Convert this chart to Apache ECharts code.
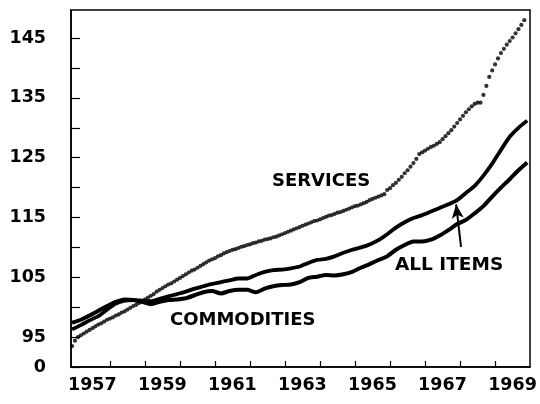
<!DOCTYPE html>
<html>
<head>
<meta charset="utf-8">
<script src="https://cdn.jsdelivr.net/npm/echarts@6/dist/echarts.min.js"></script>
<style>
  html, body { margin: 0; padding: 0; background: #fff; }
  #chart { width: 540px; height: 404px; }
</style>
</head>
<body>
<div id="chart"></div>
<script>
// monthly services index, starting at the left edge of 1957
let servicesMonthly = [
  93.5, 94.4, 95.0, 95.3, 95.6, 95.9, 96.2, 96.5, 96.8, 97.1, 97.3, 97.6,
  97.9, 98.1, 98.3, 98.6, 98.8, 99.1, 99.3, 99.6, 99.9, 100.2, 100.4, 100.7,
  100.9, 101.3, 101.6, 101.9, 102.2, 102.6, 102.9, 103.2, 103.5, 103.8, 104.0, 104.3,
  104.6, 104.9, 105.2, 105.5, 105.8, 106.1, 106.3, 106.6, 106.9, 107.2, 107.5, 107.8,
  108.0, 108.2, 108.5, 108.7, 109.0, 109.2, 109.4, 109.6, 109.7, 109.9, 110.1, 110.2,
  110.4, 110.5, 110.7, 110.8, 111.0, 111.1, 111.3, 111.4, 111.5, 111.7, 111.8, 112.0,
  112.2, 112.4, 112.6, 112.8, 113.0, 113.2, 113.4, 113.6, 113.8, 114.0, 114.2, 114.4,
  114.5, 114.7, 114.9, 115.1, 115.3, 115.4, 115.6, 115.8, 115.9, 116.1, 116.3, 116.5,
  116.7, 116.9, 117.0, 117.2, 117.4, 117.6, 117.9, 118.1, 118.3, 118.5, 118.7, 118.9,
  119.6, 119.9, 120.4, 120.8, 121.3, 121.8, 122.4, 122.9, 123.5, 124.1, 124.8, 125.6,
  125.9, 126.2, 126.5, 126.8, 127.0, 127.3, 127.6, 128.1, 128.6, 129.1, 129.6, 130.2,
  130.8, 131.4, 132.0, 132.6, 133.1, 133.6, 134.0, 134.2, 134.2, 135.5, 137.0, 138.5,
  139.6, 140.6, 141.6, 142.5, 143.2, 143.9, 144.5, 145.1, 145.8, 146.5, 147.2, 148.0
];
// quarterly values
let allItemsQuarterly = [
  96.3, 97.0, 97.8, 98.5, 99.6, 100.6, 101.1, 101.2, 101.1, 101.0, 101.4, 101.8,
  102.2, 102.6, 103.1, 103.5, 103.9, 104.2, 104.5, 104.8, 104.8, 105.4, 105.9, 106.2,
  106.3, 106.5, 106.8, 107.4, 107.9, 108.1, 108.5, 109.1, 109.6, 110.0, 110.5, 111.2,
  112.2, 113.3, 114.2, 114.9, 115.4, 116.0, 116.6, 117.2, 117.9, 119.1, 120.3, 122.0,
  124.0, 126.3, 128.5, 130.0, 131.2
];
let commoditiesQuarterly = [
  97.4, 97.9, 98.6, 99.4, 100.2, 100.9, 101.3, 101.2, 100.9, 100.5, 100.9, 101.2,
  101.3, 101.5, 102.0, 102.5, 102.7, 102.3, 102.7, 102.9, 102.9, 102.5, 103.1, 103.5,
  103.7, 103.8, 104.2, 104.9, 105.1, 105.4, 105.3, 105.5, 105.9, 106.6, 107.2, 107.9,
  108.5, 109.6, 110.4, 111.0, 111.0, 111.3, 112.0, 112.9, 113.9, 114.6, 115.7, 116.9,
  118.5, 120.0, 121.4, 122.9, 124.2
];
let yearTicks = [1958, 1959, 1960, 1961, 1962, 1963, 1964, 1965, 1966, 1967, 1968, 1969];
let yearLabels = [1957, 1959, 1961, 1963, 1965, 1967, 1969];
let yTicks = [90, 95, 100, 105, 110, 115, 120, 125, 130, 135, 140, 145];
let yLabels = [90, 95, 105, 115, 125, 135, 145];

let start = 1956.92;
let monthPairs = servicesMonthly.map((v, i) => [start + i / 12, v]);
let allItemsPairs = allItemsQuarterly.map((v, i) => [start + i / 4, v]);
let commoditiesPairs = commoditiesQuarterly.map((v, i) => [start + i / 4, v]);

let chart = echarts.init(document.getElementById('chart'));
let ink = '#000';
let labelFont = {
  color: ink,
  fontFamily: 'DejaVu Sans',
  fontWeight: 'bold',
  fontSize: 17.5
};

let option = {
  backgroundColor: '#fff',
  animation: false,
  grid: {
    left: 71,
    right: 10,
    top: 10,
    bottom: 37,
    show: true,
    borderColor: ink,
    borderWidth: 1.5
  },
  xAxis: {
    type: 'value',
    min: 1956.89,
    max: 1970,
    axisLine: { show: true, lineStyle: { color: ink, width: 1.5 } },
    axisTick: {
      show: true,
      inside: true,
      length: 6,
      customValues: yearTicks,
      lineStyle: { color: ink, width: 1.2 }
    },
    axisLabel: Object.assign({
      customValues: yearLabels.map(y => y + 0.5),
      margin: 9,
      formatter: v => String(Math.floor(v))
    }, labelFont),
    splitLine: { show: false }
  },
  yAxis: {
    type: 'value',
    min: 90,
    max: 149.7,
    axisLine: { show: true, lineStyle: { color: ink, width: 1.5 } },
    axisTick: {
      show: true,
      inside: true,
      length: 9,
      customValues: yTicks,
      lineStyle: { color: ink, width: 1.2 }
    },
    axisLabel: Object.assign({
      customValues: yLabels,
      margin: 25,
      formatter: v => (v === 90 ? '0' : String(v))
    }, labelFont),
    splitLine: { show: false }
  },
  series: [
    {
      name: 'SERVICES',
      type: 'scatter',
      data: monthPairs,
      symbol: 'circle',
      symbolSize: 4.2,
      itemStyle: { color: ink }
    },
    {
      name: 'ALL ITEMS',
      type: 'line',
      data: allItemsPairs,
      showSymbol: false,
      smooth: 0.2,
      lineStyle: { color: ink, width: 3.8 },
      markLine: {
        silent: true,
        symbol: ['none', 'arrow'],
        symbolSize: [9, 14],
        label: { show: false },
        lineStyle: { color: ink, width: 2, type: 'solid' },
        data: [[{ coord: [1968.03, 110.1] }, { coord: [1967.89, 117.2] }]]
      }
    },
    {
      name: 'COMMODITIES',
      type: 'line',
      data: commoditiesPairs,
      showSymbol: false,
      smooth: 0.2,
      lineStyle: { color: ink, width: 4 }
    }
  ],
  graphic: [
    { type: 'text', left: 272, top: 172, style: { text: 'SERVICES', fill: ink, font: 'bold 18px "DejaVu Sans"' } },
    { type: 'text', left: 170, top: 311, style: { text: 'COMMODITIES', fill: ink, font: 'bold 18px "DejaVu Sans"' } },
    { type: 'text', left: 395, top: 256, style: { text: 'ALL ITEMS', fill: ink, font: 'bold 18.5px "DejaVu Sans"' } }
  ]
};

chart.setOption(option);
</script>
</body>
</html>
